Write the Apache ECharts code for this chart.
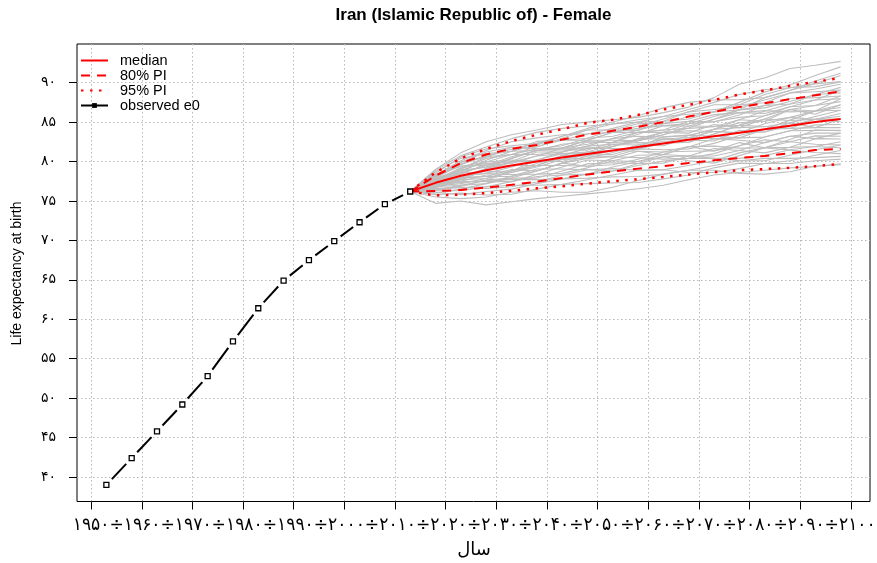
<!DOCTYPE html>
<html>
<head>
<meta charset="utf-8">
<script src="https://cdn.jsdelivr.net/npm/echarts@6/dist/echarts.min.js"></script>
<style>
html,body{margin:0;padding:0;background:#fff;}
#chart{width:877px;height:563px;}
</style>
</head>
<body>
<div id="chart"></div>
<script>
const titleText = 'Iran (Islamic Republic of) - Female';
const yAxisTitle = 'Life expectancy at birth';
const xAxisTitle = 'سال';
const legendNames = ['median', '80% PI', '95% PI', 'observed e0'];

const xTickYears = [1950, 1960, 1970, 1980, 1990, 2000, 2010, 2020, 2030, 2040, 2050, 2060, 2070, 2080, 2090, 2100];
const yTicks = [40, 45, 50, 55, 60, 65, 70, 75, 80, 85, 90];

const obsYears = [1953, 1958, 1963, 1968, 1973, 1978, 1983, 1988, 1993, 1998, 2003, 2008, 2013];
const obsE0 = [39.0, 42.4, 45.8, 49.2, 52.8, 57.2, 61.4, 64.9, 67.5, 69.9, 72.3, 74.6, 76.2];

const projYears = [2013, 2018, 2023, 2028, 2033, 2038, 2043, 2048, 2053, 2058, 2063, 2068, 2073, 2078, 2083, 2088, 2093, 2098];
const median   = [76.2, 77.3, 78.2, 78.9, 79.5, 80.0, 80.5, 80.95, 81.4, 81.85, 82.3, 82.75, 83.2, 83.65, 84.1, 84.55, 85.0, 85.4];
const pi80High = [76.2, 78.2, 79.8, 80.9, 81.6, 82.1, 82.8, 83.4, 83.9, 84.4, 85.0, 85.7, 86.3, 86.9, 87.4, 87.9, 88.4, 88.9];
const pi80Low  = [76.2, 76.25, 76.4, 76.7, 77.05, 77.45, 77.9, 78.35, 78.75, 79.1, 79.4, 79.8, 80.15, 80.45, 80.7, 81.05, 81.45, 81.6];
const pi95High = [76.2, 78.6, 80.4, 81.6, 82.6, 83.4, 84.1, 84.9, 85.3, 85.9, 86.6, 87.2, 87.8, 88.5, 89.0, 89.6, 90.1, 90.6];
const pi95Low  = [76.2, 75.7, 75.8, 76.0, 76.3, 76.6, 76.85, 77.2, 77.5, 77.75, 78.05, 78.35, 78.65, 78.9, 79.05, 79.2, 79.4, 79.7];

const trajectories = [
  [76.2,79.0,81.1,82.5,83.4,84.0,84.7,85.0,85.3,85.6,86.2,86.9,88.1,89.8,90.6,91.8,92.2,92.7],
  [76.2,74.7,75.0,74.5,74.9,75.3,75.6,75.9,76.2,76.55,77.0,77.7,78.3,78.6,78.9,79.2,79.4,79.7],
  [76.2,78.5,80.6,81.6,82.0,82.3,83.2,84.0,84.75,85.3,85.7,86.6,87.5,88.5,89.1,89.35,89.9,90.9],
  [76.2,76.1,75.8,76.2,76.5,77.2,77.8,77.9,78.05,78.1,78.4,78.9,79.5,80.1,80.4,80.4,80.5,80.65],
  [76.2,77.6,79.05,80.4,80.9,80.9,81.2,81.95,82.95,83.7,84.0,84.2,84.4,85.3,86.4,87.3,87.8,87.95],
  [76.2,76.9,77.2,77.85,78.8,79.5,79.5,79.4,79.6,80.3,81.2,81.9,81.95,81.7,81.75,82.5,83.25,83.2],
  [76.2,78.1,79.7,80.6,81.55,82.3,82.7,82.95,83.2,84.0,84.8,85.7,86.3,86.55,86.8,87.6,88.5,89.4],
  [76.2,76.5,76.7,76.8,77.45,78.1,78.3,78.4,78.8,79.5,80.05,80.4,80.4,80.4,80.75,81.5,81.9,81.75],
  [76.2,77.4,78.2,78.5,79.3,80.2,81.0,81.2,81.4,81.6,82.3,83.3,84.1,84.3,84.4,84.9,85.7,86.5],
  [76.2,77.1,78.0,79.1,79.95,80.2,80.25,80.45,81.15,82.1,82.85,83.05,82.9,83.0,83.1,83.9,84.65,84.7],
  [76.2,77.8,78.7,79.3,80.4,81.4,82.2,82.5,82.4,82.65,83.4,84.5,85.35,86.2,86.45,86.3,86.4,86.85],
  [76.2,76.7,77.5,78.3,78.35,78.4,78.5,79.2,80.1,80.8,80.9,80.7,80.7,81.4,82.4,83.2,83.6,83.6],
  [76.2,78.3,80.1,81.4,82.5,83.0,83.4,83.5,83.7,84.5,85.4,86.3,86.6,86.9,87.8,88.7,89.2,89.8],
  [76.2,76.3,76.3,76.8,77.0,77.0,77.1,77.7,78.3,78.9,78.95,78.6,78.6,79.1,79.75,80.1,80.8,81.4],
  [76.2,77.9,79.6,80.8,81.3,81.4,81.7,82.2,82.9,83.2,83.1,83.3,84.1,84.9,85.1,85.6,86.4,87.2],
  [76.2,77.0,77.9,78.1,78.1,78.8,79.8,80.4,80.6,80.5,80.3,80.4,81.0,82.0,82.75,82.5,82.2,82.1],
  [76.2,78.7,80.4,81.0,81.3,82.1,83.2,84.2,85.0,85.8,86.8,87.5,87.8,87.85,88.1,89.0,90.2,91.2],
  [76.2,75.8,76.0,75.75,75.85,76.5,77.1,77.2,77.3,77.35,77.8,78.3,79.2,79.8,79.75,79.75,80.1,80.3],
  [76.2,77.5,78.9,79.95,80.2,80.0,80.25,80.95,81.9,82.9,83.7,83.9,83.8,83.65,83.75,84.55,85.35,85.4],
  [76.2,76.8,77.0,77.2,77.9,78.8,79.8,80.7,81.4,81.6,81.5,81.6,82.3,83.3,84.1,84.2,84.3,84.3],
  [76.2,78.2,79.4,79.95,80.9,81.9,82.7,83.5,84.2,85.0,85.7,86.0,86.3,87.2,88.5,89.35,89.5,90.1],
  [76.2,76.4,77.0,77.6,77.7,77.7,77.8,78.4,79.3,80.0,80.6,80.7,80.4,80.1,80.1,80.8,81.5,82.1],
  [76.2,77.3,78.55,79.5,80.6,81.4,81.7,81.7,81.9,82.65,83.7,84.8,85.7,86.55,87.1,88.0,88.1,88.3],
  [76.2,77.2,77.7,77.85,78.6,79.5,80.5,81.2,81.4,81.3,81.2,81.3,81.35,82.0,83.1,83.9,83.95,83.95],
  [76.2,78.9,80.75,81.85,82.9,83.7,84.2,84.5,84.75,85.0,85.1,85.4,86.3,87.5,88.8,89.7,90.9,92.0],
  [76.2,75.5,75.3,75.5,76.1,76.3,76.1,76.1,76.75,77.6,78.4,78.9,78.9,78.5,78.4,78.7,79.4,79.6],
  [76.2,77.7,79.2,79.75,79.95,80.7,81.7,82.7,83.7,84.2,84.55,84.8,85.05,85.6,85.8,86.6,87.1,87.6],
  [76.2,76.6,76.7,76.6,76.8,77.4,78.3,78.95,79.1,78.9,78.95,79.5,80.1,81.1,81.75,81.8,81.9,82.5],
  [76.2,78.0,79.9,81.2,81.8,81.6,82.0,82.95,84.0,84.8,84.8,85.1,85.95,86.2,86.1,86.95,87.8,89.05],
  [76.2,77.1,77.35,77.6,78.8,80.2,81.2,81.95,82.2,82.4,82.3,82.45,83.5,84.6,85.4,85.2,85.35,85.75],
  [76.2,77.6,78.4,79.7,80.0,81.2,81.2,82.5,82.4,83.7,83.7,83.6,84.7,84.3,85.4,86.6,86.0,87.2],
  [76.2,77.0,78.0,78.1,79.0,78.8,79.8,79.4,80.4,81.3,80.9,81.9,81.35,82.4,81.75,82.8,84.0,83.9],
  [76.2,77.9,78.9,79.3,79.5,79.5,80.75,81.7,81.65,81.6,82.85,82.75,84.1,85.3,85.1,86.6,86.4,87.95],
  [76.2,76.7,77.7,78.9,79.95,80.0,80.0,80.95,81.9,82.9,82.85,82.75,82.6,83.95,83.75,84.9,84.3,85.4],
  [76.2,78.2,79.9,80.6,80.9,81.6,81.7,82.7,83.7,83.7,84.0,85.1,85.05,85.9,87.1,87.3,88.5,88.7],
  [76.2,76.4,76.85,77.65,77.9,77.9,78.8,79.7,79.85,79.75,79.8,80.7,81.65,81.4,81.1,81.8,82.9,82.85],
  [76.2,77.5,79.05,80.6,81.8,81.85,82.95,84.0,84.0,83.95,85.1,86.3,87.2,87.2,87.45,88.7,88.85,89.05],
  [76.2,77.2,77.5,77.45,77.45,78.35,79.3,80.2,80.1,80.0,80.9,81.85,82.9,82.7,82.4,83.2,82.9,83.6],
  [76.2,77.7,78.55,78.7,78.8,79.75,80.75,80.7,80.65,81.6,82.6,82.45,83.5,84.6,84.45,84.2,85.35,86.1],
  [76.2,76.8,77.85,79.1,80.4,81.4,81.5,81.45,82.45,83.45,84.55,84.5,84.45,84.6,85.8,86.95,87.1,88.3],
  [76.2,78.4,79.4,79.55,79.75,80.7,81.0,80.95,80.9,81.85,83.15,83.35,83.2,83.0,84.1,85.25,86.4,86.5],
  [76.2,76.0,76.5,77.2,78.15,79.05,79.05,78.95,78.8,79.75,80.6,80.1,79.8,80.75,81.75,81.45,81.15,81.0],
  [76.2,77.3,78.7,80.15,81.3,82.55,82.7,82.7,82.7,82.65,83.4,84.25,85.35,86.55,88.1,89.0,89.85,90.15],
  [76.2,77.1,78.2,78.5,78.6,79.3,80.25,81.2,82.15,82.1,82.0,83.05,83.8,83.65,84.8,85.6,85.35,85.05]
];

const faDigits = '۰۱۲۳۴۵۶۷۸۹';
function toFa(v) { return String(v).replace(/\d/g, d => faDigits[+d]); }
function pairs(xs, ys) { return xs.map((x, i) => [x, ys[i]]); }

const chart = echarts.init(document.getElementById('chart'), null, {renderer: 'canvas'});

const RED = '#FF0000';
const series = [];
trajectories.forEach((t, k) => {
  series.push({
    name: 'traj' + (k + 1), type: 'line', data: pairs(projYears, t),
    symbol: 'none', silent: true, z: 1,
    lineStyle: {color: '#BEBEBE', width: 1.1}
  });
});
function redLine(name, vals, type, width) {
  return {
    name: name, type: 'line', data: pairs(projYears, vals), symbol: 'none', silent: true, z: 3,
    lineStyle: {color: RED, width: width, type: type}, itemStyle: {color: RED}
  };
}
series.push(redLine('95% PI', pi95High, [2.5, 6.5], 2.5));
series.push(redLine('95% PI', pi95Low, [2.5, 6.5], 2.5));
series.push(redLine('80% PI', pi80High, [9, 7], 2));
series.push(redLine('80% PI', pi80Low, [9, 7], 2));
series.push(redLine('median', median, 'solid', 2));

// observed: line segments with gaps around the points (R type = "b")
const segData = [];
for (let i = 0; i < obsYears.length - 1; i++) {
  segData.push([obsYears[i], obsE0[i], obsYears[i + 1], obsE0[i + 1]]);
}
const GAP = 8;
series.push({
  name: 'observed-seg', type: 'custom', silent: true, z: 4,
  data: segData, encode: {x: [0, 2], y: [1, 3]},
  renderItem: function (params, api) {
    const p0 = api.coord([api.value(0), api.value(1)]);
    const p1 = api.coord([api.value(2), api.value(3)]);
    const dx = p1[0] - p0[0], dy = p1[1] - p0[1];
    const L = Math.sqrt(dx * dx + dy * dy);
    const g = Math.min(GAP, L / 3);
    const ux = dx / L, uy = dy / L;
    return {
      type: 'line',
      shape: {x1: p0[0] + ux * g, y1: p0[1] + uy * g, x2: p1[0] - ux * g, y2: p1[1] - uy * g},
      style: {stroke: '#000', lineWidth: 2}
    };
  }
});
series.push({
  name: 'observed e0', type: 'line', data: pairs(obsYears, obsE0), z: 5, silent: true,
  symbol: 'rect', symbolSize: 5, showSymbol: true,
  itemStyle: {color: '#fff', borderColor: '#000', borderWidth: 1.3},
  lineStyle: {opacity: 0, color: '#000', width: 2}
});

// x tick label row (one continuous string, as in the reference)
const xLabelRow = xTickYears.map(toFa).join('÷');
const LABEL_FONT = '18px "DejaVu Sans"';
const mctx = document.createElement('canvas').getContext('2d');
mctx.font = LABEL_FONT;
const rowWidth = mctx.measureText(xLabelRow).width;
const rowScale = 803 / rowWidth;

const GRID_LINE = {color: '#B9B9B9', type: [1.5, 2.5], width: 1};

const option = {
  backgroundColor: '#fff',
  animation: false,
  title: {
    text: titleText, left: 473.5, top: 6.5, padding: 0, textAlign: 'center',
    textStyle: {fontFamily: '"Liberation Sans", Arial, sans-serif', fontWeight: 'bold', fontSize: 17, color: '#000', lineHeight: 17}
  },
  grid: {left: 77, right: 7, top: 44, bottom: 61.5, show: true, borderColor: '#000', borderWidth: 1, backgroundColor: 'transparent', containLabel: false},
  legend: {
    orient: 'vertical', left: 80, top: 53, padding: 0, itemGap: 0,
    itemWidth: 27, itemHeight: 6, selectedMode: false,
    textStyle: {fontFamily: '"Liberation Sans", Arial, sans-serif', fontSize: 14.5, color: '#000', lineHeight: 15, padding: [0, 0, 0, 7]},
    data: [
      {name: 'median', itemStyle: {opacity: 0}},
      {name: '80% PI', itemStyle: {opacity: 0}},
      {name: '95% PI', itemStyle: {opacity: 0}},
      {name: 'observed e0', itemStyle: {color: '#000', borderColor: '#000', borderWidth: 0, opacity: 1},
       lineStyle: {color: '#000', width: 2, type: 'solid', opacity: 1}}
    ]
  },
  xAxis: {
    type: 'value', min: 1947.2, max: 2103.8,
    axisLine: {show: false},
    axisTick: {show: true, length: 8, customValues: xTickYears, lineStyle: {color: '#000', width: 1}},
    axisLabel: {show: false},
    splitLine: {show: true, lineStyle: GRID_LINE}
  },
  yAxis: {
    type: 'value', min: 36.9, max: 94.9,
    axisLine: {show: false},
    axisTick: {show: true, length: 8, customValues: yTicks, lineStyle: {color: '#000', width: 1}},
    axisLabel: {show: true, customValues: yTicks, margin: 21, formatter: v => toFa(v),
      fontFamily: '"DejaVu Sans"', fontSize: 14, color: '#000'},
    splitLine: {show: true, lineStyle: GRID_LINE}
  },
  graphic: [
    {type: 'text', x: 72.7, y: 525.5, scaleX: rowScale, silent: true,
     style: {text: xLabelRow, font: LABEL_FONT, fill: '#000', align: 'left', verticalAlign: 'middle'}},
    {type: 'text', x: 474, y: 550, silent: true,
     style: {text: xAxisTitle, font: '18px "DejaVu Sans"', fill: '#000', align: 'center', verticalAlign: 'middle'}},
    {type: 'text', x: 17, y: 273.5, rotation: Math.PI / 2, silent: true,
     style: {text: yAxisTitle, font: '14px "Liberation Sans", Arial, sans-serif', fill: '#000', align: 'center', verticalAlign: 'middle'}}
  ],
  series: series
};
chart.setOption(option);
</script>
</body>
</html>
